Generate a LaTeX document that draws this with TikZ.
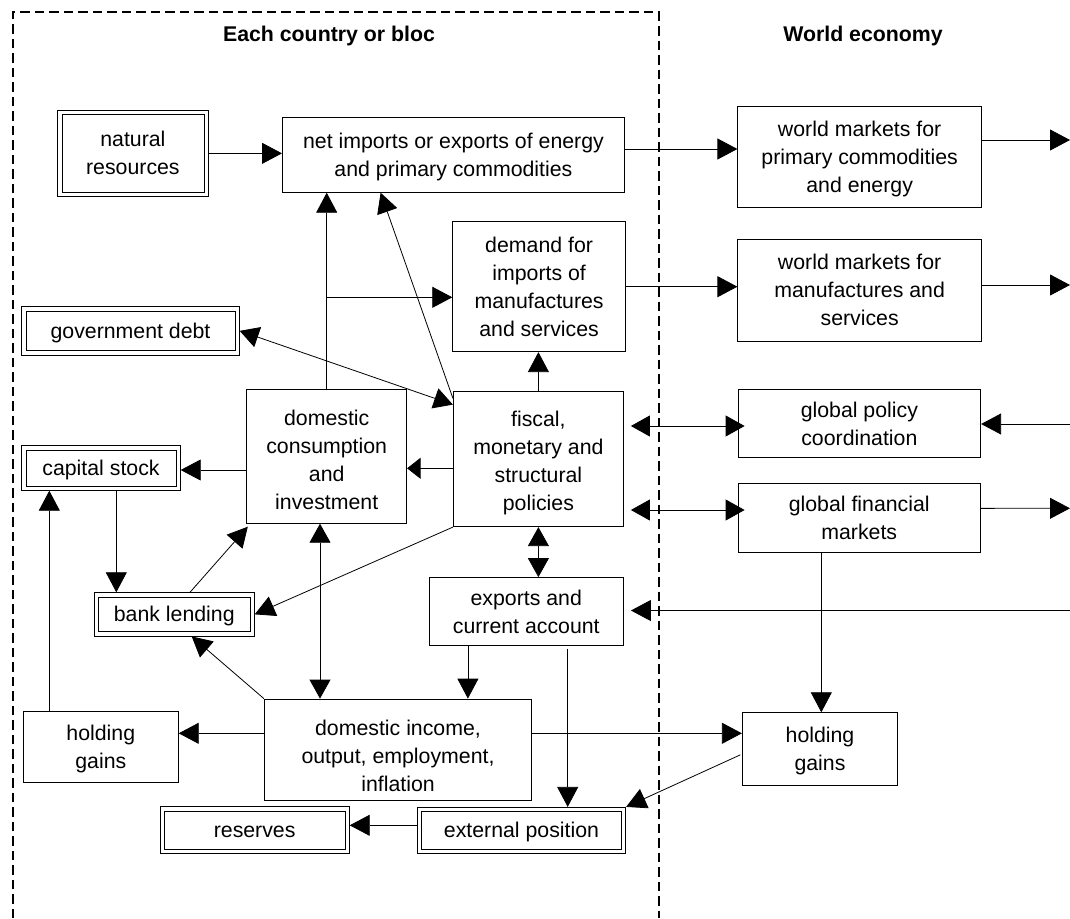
\documentclass[tikz,border=0pt]{standalone}
\usepackage{fontspec}
\setmainfont{Liberation Sans}
\usetikzlibrary{arrows.meta}

% centred block of #1 lines, set #2 lower than the default position
\newcommand\boxtext[3]{%
  \raisebox{\dimexpr 14pt*#1-21.6pt-#2\relax}[0pt][0pt]{%
    \begin{tabular}[t]{@{}c@{}}#3\end{tabular}}}

\begin{document}
\begin{tikzpicture}[x=1pt, y=-1pt,
  lbl/.style={font=\fontsize{21.3pt}{28pt}\selectfont, align=center, inner sep=0pt},
  box/.style={font=\fontsize{21.3pt}{28pt}\selectfont, inner sep=0pt, draw=black, line width=0.8pt, fill=white},
  dbox/.style={box, path picture={
      \draw[draw=black, line width=0.8pt]
        ([shift={(4.4pt,-4.4pt)}]path picture bounding box.north west)
        rectangle ([shift={(-4.4pt,4.4pt)}]path picture bounding box.south east);}},
  conn/.style={draw=black, line width=0.8pt},
  arr/.style={conn, -{Triangle[length=20pt,width=21pt]}},
  sarr/.style={conn, -{Triangle[length=13.5pt,width=21pt]}},
  darr/.style={conn, {Triangle[length=19pt,width=21pt]}-{Triangle[length=19pt,width=21pt]}},
  region/.style={draw=black, line width=2pt, dash pattern=on 9.5pt off 5pt}
]
\useasboundingbox (0,0) rectangle (1070,918);

% boundary of the national block
\draw[region] (12.5,918) -- (12.5,12.3) -- (659,12.3) -- (659,918);

% headings
\node[lbl, font=\fontsize{21.3pt}{28pt}\selectfont\bfseries] (head1) at (329,36) {Each country or bloc};
\node[lbl, font=\fontsize{21.3pt}{28pt}\selectfont\bfseries] (head2) at (863,36) {World economy};

% boxes
\node[dbox, minimum width=150.8pt, minimum height=86.7pt] (natres) at (132.9,153.35)
  {\boxtext{2}{0pt}{natural\\resources}};
\node[box, minimum width=342.1pt, minimum height=75pt] (netimp) at (453.45,154.8)
  {\boxtext{2}{0pt}{net imports or exports of energy\\and primary commodities}};
\node[box, minimum width=243.7pt, minimum height=100.6pt] (wmprim) at (859.65,157)
  {\boxtext{3}{0pt}{world markets for\\primary commodities\\and energy}};
\node[box, minimum width=172.8pt, minimum height=130pt] (demand) at (539.1,286.7)
  {\boxtext{4}{0pt}{demand for\\imports of\\manufactures\\and services}};
\node[box, minimum width=243.7pt, minimum height=102pt] (wmman) at (859.65,290)
  {\boxtext{3}{0pt}{world markets for\\manufactures and\\services}};
\node[dbox, minimum width=217.6pt, minimum height=48.3pt] (govdebt) at (130.5,330.85)
  {\boxtext{1}{0pt}{government debt}};
\node[box, minimum width=160pt, minimum height=134pt] (domcons) at (326.7,456.3)
  {\boxtext{4}{3.5pt}{domestic\\consumption\\and\\investment}};
\node[box, minimum width=170.2pt, minimum height=135pt] (fiscal) at (538.4,459.2)
  {\boxtext{4}{2.1pt}{fiscal,\\monetary and\\structural\\policies}};
\node[box, minimum width=242.7pt, minimum height=68.2pt] (gpolicy) at (859.35,423.6)
  {\boxtext{2}{0pt}{global policy\\coordination}};
\node[dbox, minimum width=158.6pt, minimum height=44.8pt] (capstock) at (101,467.9)
  {\boxtext{1}{0pt}{capital stock}};
\node[box, minimum width=242.5pt, minimum height=68.7pt] (gfin) at (859.25,517.65)
  {\boxtext{2}{0pt}{global financial\\markets}};
\node[dbox, minimum width=160pt, minimum height=43.3pt] (bank) at (174.3,614.35)
  {\boxtext{1}{0pt}{bank lending}};
\node[box, minimum width=194.5pt, minimum height=67.8pt] (exports) at (526.25,611.4)
  {\boxtext{2}{0pt}{exports and\\current account}};
\node[box, minimum width=155pt, minimum height=71.7pt] (hgl) at (100.8,746.85)
  {\boxtext{2}{0pt}{holding\\gains}};
\node[box, minimum width=267.4pt, minimum height=101.7pt] (domincome) at (398,749.85)
  {\boxtext{3}{5.9pt}{domestic income,\\output, employment,\\inflation}};
\node[box, minimum width=155.4pt, minimum height=72.3pt] (hgr) at (820,748.85)
  {\boxtext{2}{0pt}{holding\\gains}};
\node[dbox, minimum width=189.3pt, minimum height=46.6pt] (reserves) at (254.65,830)
  {\boxtext{1}{0pt}{reserves}};
\node[dbox, minimum width=208.4pt, minimum height=46pt] (extpos) at (521.5,830.3)
  {\boxtext{1}{0pt}{external position}};

% free ends at the right margin
\coordinate (r1) at (1070,140);
\coordinate (r2) at (1070,285);
\coordinate (r3) at (1070,424);
\coordinate (r4) at (1070,508.3);
\coordinate (r5) at (1070,610.5);
\coordinate (br) at (326.7,297.3);

% connectors
\draw[arr] (natres.east) -- (natres.east -| netimp.west);
\draw[arr] ([yshift=5.8pt]netimp.east) -- ([yshift=5.8pt]netimp.east -| wmprim.west);
\draw[arr] ([yshift=17pt]wmprim.east) -- (r1);
\draw[arr] (domcons.north) -- (domcons.north |- netimp.south);
\draw[arr] (br) -- (br -| demand.west);
\draw[arr] ([yshift=-7pt]fiscal.north west) -- ([xshift=98.6pt]netimp.south west);
\draw[darr] (govdebt.east) -- ([yshift=-13.3pt]fiscal.north west);
\draw[arr] (fiscal.north) -- (fiscal.north |- demand.south);
\draw[arr] (demand.east) -- (demand.east -| wmman.west);
\draw[arr] ([yshift=5pt]wmman.east) -- (r2);
\draw[darr] ([xshift=7pt,yshift=33.2pt]fiscal.east) -- ([xshift=7pt,yshift=33.2pt]fiscal.east -| gpolicy.west);
\draw[arr] (r3) -- (r3 -| gpolicy.east);
\draw[darr] ([xshift=7pt,yshift=-50.8pt]fiscal.east) -- ([xshift=7pt,yshift=-50.8pt]fiscal.east -| gfin.west);
\draw[arr] ([yshift=9.3pt]gfin.east) -- (r4);
\draw[arr] ([yshift=-13.7pt]domcons.west) -- ([yshift=-13.7pt]domcons.west -| capstock.east);
\draw[sarr] ([yshift=-9.1pt]fiscal.west) -- ([yshift=-9.1pt]fiscal.west -| domcons.east);
\draw[arr] ([xshift=15.3pt]capstock.south) -- ([xshift=15.3pt]capstock.south |- bank.north);
\draw[arr] ([xshift=-51.5pt]hgl.north) -- ([xshift=-51.5pt]hgl.north |- capstock.south);
\draw[arr] ([xshift=15.7pt]bank.north) -- ([xshift=1.5pt,yshift=-3pt]domcons.south west);
\draw[arr] (fiscal.south west) -- (bank.east);
\draw[darr] ([xshift=-6.7pt]domcons.south) -- ([xshift=-6.7pt]domcons.south |- domincome.north);
\draw[darr] (fiscal.south) -- (fiscal.south |- exports.north);
\draw[arr] (r5) -- ([xshift=7pt]r5 -| exports.east);
\draw[arr] ([xshift=39.3pt]exports.south west) -- ([xshift=39.3pt]exports.south west |- domincome.north);
\draw[arr] ([xshift=41.45pt,yshift=-3pt]exports.south) -- ([xshift=41.45pt]exports.south |- extpos.north);
\draw[arr] ([yshift=16.55pt]domincome.west) -- ([yshift=16.55pt]domincome.west -| hgl.east);
\draw[arr] (domincome.north west) -- ([xshift=17.4pt]bank.south);
\draw[arr] ([yshift=16.55pt]domincome.east) -- ([yshift=16.55pt]domincome.east -| hgr.west);
\draw[arr] ([xshift=-37.95pt]gfin.south) -- ([xshift=-37.95pt]gfin.south |- hgr.north);
\draw[arr] ([xshift=-1.6pt,yshift=-6pt]hgr.west) -- (extpos.north east);
\draw[arr] ([yshift=5pt]extpos.west) -- ([yshift=5pt]extpos.west -| reserves.east);
\end{tikzpicture}
\end{document}
